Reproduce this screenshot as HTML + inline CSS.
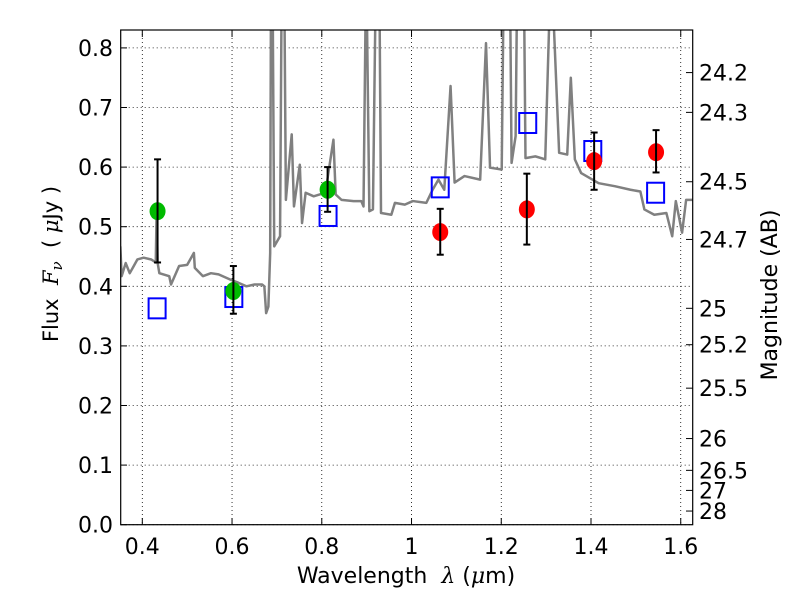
<!DOCTYPE html>
<html><head><meta charset="utf-8"><style>
body{margin:0;background:#fff}
svg{display:block;font-family:"DejaVu Sans","Liberation Sans",sans-serif}
</style></head><body>
<svg id="chart" width="800" height="600">
<defs><clipPath id="pc"><rect x="120.7" y="30" width="572" height="494.7"/></clipPath></defs>
<g id="grid"></g>
<g id="spec" clip-path="url(#pc)"></g>
<g id="marks"></g>
<rect x="120.7" y="30" width="572" height="494.7" fill="none" stroke="#000" stroke-width="1.2"/>
<g id="axes" font-size="22"></g>
<text x="406" y="583" font-size="22" text-anchor="middle" xml:space="preserve">Wavelength  <tspan font-family="DejaVu Serif" font-style="italic">λ</tspan> (<tspan font-family="DejaVu Serif" font-style="italic">μ</tspan>m)</text>
<text transform="translate(58,264) rotate(-90)" font-size="21" text-anchor="middle" xml:space="preserve">Flux  <tspan font-family="DejaVu Serif" font-style="italic">F<tspan font-size="15" dy="4">ν</tspan></tspan><tspan dy="-4">  ( </tspan><tspan font-family="DejaVu Serif" font-style="italic">μ</tspan>Jy )</text>
<text transform="translate(777,295) rotate(-90)" font-size="22" text-anchor="middle">Magnitude (AB)</text>
</svg>
<script>
const specLam=[0.351,0.354,0.363,0.372,0.381,0.389,0.403,0.420,0.430,0.432,0.434,0.438,0.460,0.464,0.482,0.500,0.515,0.517,0.535,0.553,0.570,0.597,0.614,0.632,0.650,0.667,0.672,0.676,0.681,0.685,0.687,0.690,0.694,0.707,0.711,0.716,0.720,0.733,0.738,0.751,0.756,0.764,0.782,0.808,0.826,0.831,0.844,0.871,0.888,0.893,0.899,0.906,0.914,0.921,0.928,0.932,0.955,0.963,0.985,1.003,1.033,1.047,1.060,1.073,1.087,1.096,1.118,1.153,1.166,1.175,1.201,1.206,1.219,1.223,1.232,1.236,1.250,1.254,1.276,1.298,1.311,1.329,1.347,1.355,1.364,1.378,1.417,1.453,1.488,1.510,1.519,1.541,1.568,1.581,1.589,1.603,1.612,1.627];
const specFlux=[0.467,0.417,0.439,0.422,0.434,0.445,0.448,0.445,0.440,0.530,0.440,0.422,0.417,0.403,0.434,0.436,0.456,0.431,0.417,0.422,0.420,0.411,0.406,0.400,0.403,0.403,0.400,0.355,0.366,0.456,0.95,0.95,0.467,0.484,0.95,0.95,0.545,0.655,0.534,0.604,0.506,0.557,0.551,0.557,0.646,0.554,0.545,0.543,0.543,0.534,0.95,0.526,0.529,0.95,0.95,0.523,0.520,0.540,0.537,0.543,0.540,0.562,0.579,0.562,0.736,0.574,0.585,0.579,0.808,0.599,0.596,0.95,0.95,0.607,0.652,0.95,0.95,0.615,0.618,0.613,0.95,0.624,0.621,0.750,0.613,0.590,0.573,0.568,0.562,0.559,0.529,0.520,0.523,0.484,0.543,0.490,0.545,0.545];
const greenLam=[0.434,0.603,0.813];
const greenFlux=[0.526,0.392,0.562];
const greenLo=[0.440,0.354,0.525];
const greenHi=[0.613,0.434,0.600];
const redLam=[1.064,1.257,1.407,1.545];
const redFlux=[0.491,0.529,0.610,0.625];
const redLo=[0.453,0.470,0.562,0.591];
const redHi=[0.530,0.589,0.658,0.662];
const modelLam=[0.433,0.604,0.814,1.064,1.259,1.404,1.544];
const modelFlux=[0.363,0.382,0.518,0.566,0.674,0.627,0.557];
const xTicks=[0.4,0.6,0.8,1.0,1.2,1.4,1.6];
const xTickLabels=["0.4","0.6","0.8","1","1.2","1.4","1.6"];
const yTicks=[0,0.1,0.2,0.3,0.4,0.5,0.6,0.7,0.8];
const magTicks=[24.2,24.3,24.5,24.7,25,25.2,25.5,26,26.5,27,28];
const magLabels=["24.2","24.3","24.5","24.7","25","25.2","25.5","26","26.5","27","28"];

const X=l=>142.3+(l-0.4)*448.7;
const Y=f=>524.7-f*596;
const NS="http://www.w3.org/2000/svg";
function mk(tag,attrs,parent){const e=document.createElementNS(NS,tag);for(const k in attrs)e.setAttribute(k,attrs[k]);parent.appendChild(e);return e;}
const grid=document.getElementById('grid'),axes=document.getElementById('axes'),spec=document.getElementById('spec'),marks=document.getElementById('marks');

xTicks.forEach((t,i)=>{
  const g=mk('line',{x1:X(t),x2:X(t),y1:30,y2:524.7,stroke:'#000','stroke-width':0.8,'stroke-dasharray':'1,3'},grid);
  
  
  mk('line',{x1:X(t),x2:X(t),y1:524.7,y2:518,stroke:'#000'},axes);
  mk('line',{x1:X(t),x2:X(t),y1:30,y2:37,stroke:'#000'},axes);
  const tx=mk('text',{x:X(t),y:554,'text-anchor':'middle'},axes);
  tx.textContent=xTickLabels[i];
  
  
});
yTicks.forEach(t=>{
  const g=mk('line',{x1:120.7,x2:692.7,y1:Y(t),y2:Y(t),stroke:'#000','stroke-width':0.8,'stroke-dasharray':'1,3'},grid);
  
  
  mk('line',{x1:120.7,x2:127,y1:Y(t),y2:Y(t),stroke:'#000'},axes);
  const tx=mk('text',{x:113,y:Y(t)+8,'text-anchor':'end'},axes);
  tx.textContent=t.toFixed(1);
  
  
});
magTicks.forEach((m,i)=>{
  const f=Math.pow(10,(23.9-m)/2.5);
  mk('line',{x1:692.7,x2:686,y1:Y(f),y2:Y(f),stroke:'#000'},axes);
  const tx=mk('text',{x:699,y:Y(f)+8},axes);
  tx.textContent=magLabels[i];
  
  
});

const sp=mk('polyline',{points:specLam.map((l,i)=>X(l)+','+Y(specFlux[i])).join(' '),fill:'none',stroke:'#808080','stroke-width':2.5,'stroke-linejoin':'round'},spec);



function errbar(l,lo,hi){
  const g=mk('g',{stroke:'#000','stroke-width':2},marks);
  
  
  mk('line',{x1:X(l),x2:X(l),y1:Y(lo),y2:Y(hi)},g);
  mk('line',{x1:X(l)-3.5,x2:X(l)+3.5,y1:Y(lo),y2:Y(lo)},g);
  mk('line',{x1:X(l)-3.5,x2:X(l)+3.5,y1:Y(hi),y2:Y(hi)},g);
}
modelLam.forEach((l,i)=>{
  const r=mk('rect',{x:X(l)-8.5,y:Y(modelFlux[i])-10,width:17,height:20,fill:'none',stroke:'#0000ff','stroke-width':2},marks);
  
  
});
greenLam.forEach((l,i)=>{
  const c=mk('ellipse',{cx:X(l),cy:Y(greenFlux[i]),rx:8,ry:9,fill:'#00bb00'},marks);
  
  
  errbar(l,greenLo[i],greenHi[i]);
});
redLam.forEach((l,i)=>{
  const c=mk('ellipse',{cx:X(l),cy:Y(redFlux[i]),rx:8,ry:9,fill:'#ff0000'},marks);
  
  
  errbar(l,redLo[i],redHi[i]);
});
</script>
</body></html>
